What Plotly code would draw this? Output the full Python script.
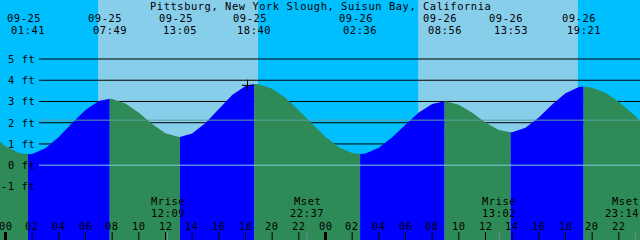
import plotly.graph_objects as go

# ---------------- data (hours from 09-25 00:00, heights in ft) ----------------
tide_t = [-1, 0, 1, 1.683, 2, 3, 4, 5, 6, 7, 7.817, 8, 9, 10, 11, 12, 13, 13.083,
          14, 15, 16, 17, 18, 18.667, 19, 20, 21, 22, 23, 24, 25, 26, 26.6,
          27, 28, 29, 30, 31, 32, 32.933, 33, 34, 35, 36, 37, 37.883,
          38, 39, 40, 41, 42, 43, 43.35, 44, 45, 46, 47, 48]
tide_ft = [1.41, 0.89, 0.57, 0.51, 0.53, 0.80, 1.33, 1.99, 2.60, 3.02, 3.13, 3.12, 2.91,
           2.47, 1.94, 1.51, 1.33, 1.33,
           1.49, 1.99, 2.66, 3.31, 3.73, 3.82, 3.81, 3.60, 3.17, 2.58, 1.94, 1.33, 0.85,
           0.58, 0.53,
           0.55, 0.82, 1.31, 1.91, 2.48, 2.88, 3.01, 3.01, 2.85, 2.47, 2.01, 1.66, 1.55,
           1.55, 1.76, 2.25, 2.86, 3.39, 3.68, 3.70, 3.65, 3.41, 2.98, 2.44, 1.85]

extreme_t = [1.683, 7.817, 13.083, 18.667, 26.6, 32.933, 37.883, 43.35]
extreme_date = ["09-25", "09-25", "09-25", "09-25", "09-26", "09-26", "09-26", "09-26"]
extreme_time = ["01:41", "07:49", "13:05", "18:40", "02:36", "08:56", "13:53", "19:21"]

sunrise_t = [6.94, 30.95]
sunset_t = [18.94, 42.93]

moon_t = [12.15, 22.617, 37.033, 47.233]
moon_kind = ["Mrise", "Mset", "Mrise", "Mset"]
moon_time = ["12:09", "22:37", "13:02", "23:14"]

hour_ticks = list(range(0, 49, 2))
hour_labels = ["%02d" % (h % 24) for h in hour_ticks]

grid_ft = [1, 2, 3, 4, 5]
label_ft = [5, 4, 3, 2, 1, 0, -1]
datum_ft = 0
mean_ft = 2.12

now_t, now_ft = 18.15, 3.76

title_text = "Pittsburg, New York Slough, Suisun Bay, California"

# ---------------- styling ----------------
W, H = 640, 240
X_RANGE = [-0.4125, 47.5875]
Y_RANGE = [-3.522, 7.778]
NIGHT = "#00BFFF"
DAY = "#87CEEB"
RISE = "#0000FF"
FALL = "#2E8B57"
FONT = dict(family="DejaVu Sans Mono", size=10.4, color="black")
CHAR_W = 6.83


def sp(s):
    return '<span style="letter-spacing:0.57px">%s</span>' % s


def ypx(p):
    return (H - p) / H


def xpx(t):
    return (t - X_RANGE[0]) / (X_RANGE[1] - X_RANGE[0]) * W


fig = go.Figure()

# water fill segments split at extremes
bounds = [tide_t[0]] + extreme_t + [tide_t[-1]]
bottom = -5
for a, b in zip(bounds[:-1], bounds[1:]):
    xs = [t for t in tide_t if a <= t <= b]
    ys = [tide_ft[tide_t.index(t)] for t in xs]
    color = RISE if ys[-1] > ys[0] else FALL
    fig.add_trace(go.Scatter(
        x=xs + [b, a], y=ys + [bottom, bottom], fill="toself", fillcolor=color,
        mode="lines", line=dict(width=0, color=color), hoverinfo="skip"))

# current-time cross
fig.add_trace(go.Scatter(x=[now_t], y=[now_ft], mode="markers",
                         marker=dict(symbol="cross-thin", size=8,
                                     line=dict(width=1, color="black")),
                         hoverinfo="skip"))

shapes = []
for sr, ss in zip(sunrise_t, sunset_t):
    shapes.append(dict(type="rect", xref="x", yref="paper", x0=sr, x1=ss, y0=0, y1=1,
                       fillcolor=DAY, line=dict(width=0), layer="below"))
gx0 = 39 / W
for f in grid_ft:
    shapes.append(dict(type="line", xref="paper", yref="y", x0=gx0, x1=1, y0=f, y1=f,
                       line=dict(color="black", width=1), layer="below"))
shapes.append(dict(type="line", xref="paper", yref="y", x0=gx0, x1=1, y0=datum_ft, y1=datum_ft,
                   line=dict(color="#80CCDD", width=1), layer="above"))
shapes.append(dict(type="line", xref="paper", yref="y", x0=gx0, x1=1, y0=mean_ft, y1=mean_ft,
                   line=dict(color="#5F9EA0", width=1), layer="above"))
tick_top = 8 / H
for h in hour_ticks:
    shapes.append(dict(type="line", xref="x", yref="paper", x0=h, x1=h, y0=0, y1=tick_top,
                       line=dict(color="black", width=3 if h % 24 == 0 else 1), layer="above"))
for m in moon_t:
    shapes.append(dict(type="line", xref="x", yref="paper", x0=m, x1=m, y0=0, y1=tick_top,
                       line=dict(color="#778899", width=1), layer="above"))

ann = []
ann.append(dict(text=sp(title_text), xref="paper", yref="paper", x=0.5, y=ypx(5.5),
                showarrow=False, font=FONT, xanchor="center", yanchor="middle", borderpad=0))
for t, d, tm in zip(extreme_t, extreme_date, extreme_time):
    ann.append(dict(text=sp(d), xref="x", yref="paper", x=t, xshift=-4.3, y=ypx(17.7),
                    showarrow=False, font=FONT, xanchor="center", yanchor="middle", borderpad=0))
    ann.append(dict(text=sp(tm), xref="x", yref="paper", x=t, y=ypx(29.9),
                    showarrow=False, font=FONT, xanchor="center", yanchor="middle", borderpad=0))
for f in label_ft:
    ann.append(dict(text=sp("%d ft" % f), xref="paper", yref="y", x=36 / W, y=f,
                    showarrow=False, font=FONT, xanchor="right", yanchor="middle", borderpad=0))
for t, k, tm in zip(moon_t, moon_kind, moon_time):
    half = max(len(k), len(tm)) * CHAR_W / 2
    if xpx(t) + half > W:
        pos = dict(xref="paper", x=1, xanchor="right")
    else:
        pos = dict(xref="x", x=t, xanchor="center")
    ann.append(dict(text=sp(k), yref="paper", y=ypx(201.0), showarrow=False, font=FONT,
                    yanchor="middle", borderpad=0, **pos))
    ann.append(dict(text=sp(tm), yref="paper", y=ypx(213.2), showarrow=False, font=FONT,
                    yanchor="middle", borderpad=0, **pos))
for h, lab in zip(hour_ticks, hour_labels):
    ann.append(dict(text=sp(lab), xref="x", yref="paper", x=h, y=ypx(225.6),
                    showarrow=False, font=FONT, xanchor="center", yanchor="middle", borderpad=0))

fig.update_layout(
    width=W, height=H, margin=dict(l=0, r=0, t=0, b=0),
    paper_bgcolor=NIGHT, plot_bgcolor=NIGHT, showlegend=False,
    xaxis=dict(range=X_RANGE, visible=False, fixedrange=True),
    yaxis=dict(range=Y_RANGE, visible=False, fixedrange=True),
    shapes=shapes, annotations=ann,
)

fig.write_html("out.html", config={"displayModeBar": False})
